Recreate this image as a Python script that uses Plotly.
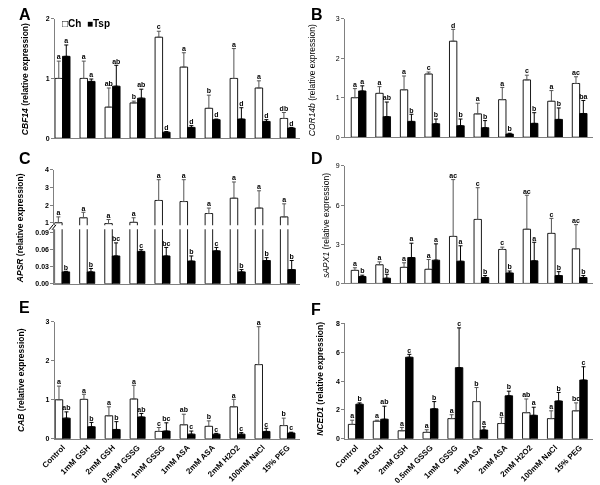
import plotly.graph_objects as go

categories = ["Control", "1mM GSH", "2mM GSH", "0.5mM GSSG", "1mM GSSG",
              "1mM ASA", "2mM ASA", "2mM H2O2", "100mM NaCl", "15% PEG"]

# Panel A  CBF14
a_ch = [1.00, 1.00, 0.52, 0.59, 1.69, 1.19, 0.50, 1.00, 0.84, 0.33]
a_ch_err = [0.29, 0.29, 0.32, 0.03, 0.10, 0.24, 0.22, 0.50, 0.12, 0.10]
a_tsp = [1.37, 0.95, 0.87, 0.67, 0.10, 0.18, 0.31, 0.32, 0.28, 0.17]
a_tsp_err = [0.19, 0.04, 0.35, 0.15, 0.01, 0.03, 0.01, 0.19, 0.03, 0.01]
a_ch_let = ["a", "a", "ab", "b", "c", "a", "b", "a", "a", "db"]
a_tsp_let = ["a", "a", "ab", "ab", "d", "d", "d", "d", "d", "d"]

# Panel B  COR14b
b_ch = [1.00, 1.11, 1.20, 1.60, 2.43, 0.59, 0.95, 1.45, 0.91, 1.36]
b_ch_err = [0.23, 0.17, 0.35, 0.05, 0.30, 0.27, 0.31, 0.12, 0.27, 0.17]
b_tsp = [1.17, 0.52, 0.40, 0.34, 0.29, 0.24, 0.08, 0.35, 0.45, 0.60]
b_tsp_err = [0.13, 0.37, 0.18, 0.12, 0.17, 0.18, 0.02, 0.27, 0.29, 0.33]
b_ch_let = ["a", "a", "a", "c", "d", "a", "a", "c", "a", "ac"]
b_tsp_let = ["a", "ab", "b", "b", "b", "b", "b", "b", "b", "ba"]

# Panel C  APSR (broken axis)
c_ch = [1.00, 1.28, 0.95, 1.02, 2.26, 2.20, 1.52, 2.39, 1.83, 1.33]
c_ch_err = [0.33, 0.31, 0.23, 0.26, 1.18, 1.24, 0.31, 0.92, 0.98, 0.74]
c_tsp = [0.021, 0.021, 0.049, 0.057, 0.049, 0.040, 0.058, 0.021, 0.041, 0.025]
c_tsp_err = [0.001, 0.006, 0.023, 0.003, 0.015, 0.009, 0.006, 0.004, 0.005, 0.016]
c_ch_let = ["a"] * 10
c_tsp_let = ["b", "b", "bc", "c", "bc", "b", "c", "b", "b", "b"]

# Panel D  sAPX1
d_ch = [1.00, 1.43, 1.23, 1.08, 3.60, 4.90, 2.60, 4.15, 3.83, 2.65]
d_ch_err = [0.20, 0.22, 0.35, 0.75, 4.35, 2.43, 0.18, 2.60, 1.15, 1.85]
d_tsp = [0.53, 0.40, 1.98, 1.78, 1.70, 0.45, 0.80, 1.73, 0.60, 0.45]
d_tsp_err = [0.10, 0.30, 1.10, 1.25, 1.18, 0.15, 0.15, 1.42, 0.30, 0.15]
d_ch_let = ["a", "a", "a", "a", "ac", "c", "c", "ac", "c", "ac"]
d_tsp_let = ["b", "b", "a", "a", "a", "b", "b", "a", "b", "b"]

# Panel E  CAB
e_ch = [1.00, 1.01, 0.59, 1.02, 0.19, 0.36, 0.32, 0.82, 1.90, 0.34]
e_ch_err = [0.35, 0.13, 0.23, 0.35, 0.10, 0.27, 0.14, 0.19, 0.97, 0.19]
e_tsp = [0.53, 0.31, 0.24, 0.56, 0.20, 0.12, 0.12, 0.12, 0.19, 0.15]
e_tsp_err = [0.16, 0.11, 0.20, 0.09, 0.21, 0.08, 0.02, 0.04, 0.08, 0.02]
e_ch_let = ["a", "a", "a", "a", "c", "ab", "b", "a", "a", "b"]
e_tsp_let = ["ab", "b", "b", "ab", "bc", "c", "c", "c", "c", "c"]

# Panel F  NCED1
f_ch = [1.00, 1.22, 0.56, 0.45, 1.40, 2.58, 1.06, 1.81, 1.40, 1.94]
f_ch_err = [0.29, 0.07, 0.23, 0.18, 0.27, 0.97, 0.43, 0.95, 0.54, 0.55]
f_tsp = [2.40, 1.36, 5.65, 2.08, 4.93, 0.61, 2.98, 1.63, 2.62, 4.07]
f_tsp_err = [0.09, 0.90, 0.20, 0.50, 2.75, 0.23, 0.32, 0.56, 0.59, 0.92]
f_ch_let = ["a", "a", "a", "a", "a", "b", "a", "ab", "a", "bc"]
f_tsp_let = ["b", "ab", "c", "b", "c", "a", "b", "a", "b", "c"]

FONT = "Liberation Sans, Arial, sans-serif"
AXC = "#808080"
TXT = "black"
xpos = list(range(len(categories)))
W, H = 600, 485


def px(x):
    return x / W


def py(y):
    return (H - y) / H


fig = go.Figure()
annotations = []


def ref(n):
    return ("x" if n == 1 else f"x{n}"), ("y" if n == 1 else f"y{n}")


def add_bars(n, ch, ch_err, tsp, tsp_err, show_ch_err=True, show_tsp_err=True):
    xa, ya = ref(n)
    fig.add_trace(go.Bar(
        x=xpos, y=ch, xaxis=xa, yaxis=ya, name="Ch", showlegend=False,
        marker=dict(color="white", line=dict(color="black", width=0.9)),
        error_y=dict(type="data", symmetric=False, array=ch_err,
                     arrayminus=[0] * len(ch), color="#555555", thickness=1,
                     width=2, visible=show_ch_err),
        hoverinfo="skip",
    ))
    fig.add_trace(go.Bar(
        x=xpos, y=tsp, xaxis=xa, yaxis=ya, name="Tsp", showlegend=False,
        marker=dict(color="black", line=dict(color="black", width=0.9)),
        error_y=dict(type="data", symmetric=False, array=tsp_err,
                     arrayminus=[0] * len(tsp), color="black", thickness=1,
                     width=2, visible=show_tsp_err),
        hoverinfo="skip",
    ))


def add_letters(n, vals, errs, letters, offset):
    xa, ya = ref(n)
    fig.add_trace(go.Scatter(
        x=[i + offset for i in xpos], y=[v + e for v, e in zip(vals, errs)],
        xaxis=xa, yaxis=ya, mode="text", text=letters,
        textposition="top center", cliponaxis=False, showlegend=False,
        hoverinfo="skip",
        textfont=dict(size=7, family=FONT, color=TXT, weight="bold")))


def set_axes(n, xdom, ydom, xr, yr, ytickvals, bold=True, xlabels=False,
             ytickfmt=None, xvisible=True):
    xk = "xaxis" if n == 1 else f"xaxis{n}"
    yk = "yaxis" if n == 1 else f"yaxis{n}"
    xa, ya = ref(n)
    fig.layout[xk] = dict(
        domain=xdom, range=xr, anchor=ya, showline=xvisible, linecolor=AXC,
        linewidth=1, showgrid=False, zeroline=False, ticks="",
        tickvals=xpos, ticktext=categories, showticklabels=xlabels,
        tickangle=-45, tickfont=dict(size=8, family=FONT, color=TXT,
                                     weight="bold"),
        visible=xvisible, fixedrange=True)
    fig.layout[yk] = dict(
        domain=ydom, range=yr, anchor=xa, showline=True, linecolor=AXC,
        linewidth=1, showgrid=False, zeroline=False, ticks="outside",
        ticklen=3, tickcolor=AXC, tickvals=ytickvals,
        tickfont=dict(size=7, family=FONT, color=TXT,
                      weight="bold" if bold else "normal"),
        tickformat=ytickfmt, fixedrange=True)


# ---- Panel A (1)
add_bars(1, a_ch, a_ch_err, a_tsp, a_tsp_err)
add_letters(1, a_ch, a_ch_err, a_ch_let, -0.15)
add_letters(1, a_tsp, a_tsp_err, a_tsp_let, 0.15)
set_axes(1, [px(42), px(293)], [py(137), py(15)], [-0.3, 9.5], [0, 2], [0, 1, 2])

# ---- Panel B (2)
add_bars(2, b_ch, b_ch_err, b_tsp, b_tsp_err)
add_letters(2, b_ch, b_ch_err, b_ch_let, -0.15)
add_letters(2, b_tsp, b_tsp_err, b_tsp_let, 0.15)
set_axes(2, [px(339), px(593)], [py(136), py(15)], [-0.55, 9.55], [0, 3],
         [0, 1, 2, 3], bold=False)

# ---- Panel C lower (3) and upper (4)
add_bars(3, c_ch, c_ch_err, c_tsp, c_tsp_err, show_ch_err=False)
add_letters(3, c_tsp, c_tsp_err, c_tsp_let, 0.15)
set_axes(3, [px(41.3), px(293.3)], [py(285.7), py(230.0)], [-0.31, 9.5],
         [0, 0.096], [0, 0.03, 0.06, 0.09], ytickfmt=".2f")
add_bars(4, c_ch, c_ch_err, c_tsp, c_tsp_err, show_tsp_err=False)
add_letters(4, c_ch, c_ch_err, c_ch_let, -0.15)
set_axes(4, [px(41.3), px(293.3)], [py(226.0), py(169.3)], [-0.31, 9.5],
         [0.85, 4], [1, 2, 3, 4], xvisible=False)

# ---- Panel D (5)
add_bars(5, d_ch, d_ch_err, d_tsp, d_tsp_err)
add_letters(5, d_ch, d_ch_err, d_ch_let, -0.15)
add_letters(5, d_tsp, d_tsp_err, d_tsp_let, 0.15)
set_axes(5, [px(339), px(593)], [py(285.3), py(165.3)], [-0.55, 9.55], [0, 9],
         [0, 3, 6, 9], bold=False)

# ---- Panel E (6)
add_bars(6, e_ch, e_ch_err, e_tsp, e_tsp_err)
add_letters(6, e_ch, e_ch_err, e_ch_let, -0.15)
add_letters(6, e_tsp, e_tsp_err, e_tsp_let, 0.15)
set_axes(6, [px(41.7), px(293.3)], [py(444), py(324.3)], [-0.32, 9.52], [0, 3],
         [0, 1, 2, 3], xlabels=True)

# ---- Panel F (7)
add_bars(7, f_ch, f_ch_err, f_tsp, f_tsp_err)
add_letters(7, f_ch, f_ch_err, f_ch_let, -0.15)
add_letters(7, f_tsp, f_tsp_err, f_tsp_let, 0.15)
set_axes(7, [px(339.3), px(593.3)], [py(444), py(326)], [-0.42, 9.55], [0, 8],
         [0, 2, 4, 6, 8], xlabels=True)

# Panel letters
for t, x, y in [("A", 3, 11), ("B", 302, 11), ("C", 3, 158), ("D", 302, 158),
                ("E", 3, 310), ("F", 302, 312)]:
    annotations.append(dict(x=px(x), y=py(y), xref="paper", yref="paper",
                            text=f"<b>{t}</b>", showarrow=False, xanchor="left",
                            yanchor="middle",
                            font=dict(size=16, family=FONT, color=TXT)))

# Y-axis titles
ytitles = [
    ("<b><i>CBF14</i> (relative expression)</b>", 12, 77),
    ("<i>COR14b</i> (relative expression)", 306, 78),
    ("<b><i>APSR</i> (relative expression)</b>", 6, 229),
    ("<i>sAPX1</i> (relative expression)", 320, 226),
    ("<b><i>CAB</i> (relative expression)</b>", 7, 384),
    ("<b><i>NCED1</i> (relative expression)</b>", 313, 383),
]
for t, x, y in ytitles:
    annotations.append(dict(x=px(x), y=py(y), xref="paper", yref="paper",
                            text=t, showarrow=False, textangle=-90,
                            xanchor="center", yanchor="middle",
                            font=dict(size=8.5, family=FONT, color=TXT)))

# Legend
annotations.append(dict(x=px(47), y=py(20), xref="paper", yref="paper",
                        text="<b>□Ch  ■Tsp</b>", showarrow=False,
                        xanchor="left", yanchor="middle",
                        font=dict(size=10, family=FONT, color=TXT)))

# Axis-break marks on panel C
shapes = []
for dx in (0, 3):
    shapes.append(dict(type="line", xref="paper", yref="paper",
                       x0=px(36 + dx), y0=py(230.5), x1=px(40 + dx), y1=py(225.5),
                       line=dict(color="black", width=1)))

fig.update_layout(
    width=W, height=H, margin=dict(l=0, r=0, t=0, b=0),
    paper_bgcolor="white", plot_bgcolor="white",
    barmode="group", bargap=0.4, bargroupgap=0,
    annotations=annotations, shapes=shapes, showlegend=False,
    font=dict(family=FONT, color="black"), hovermode=False,
)

fig.write_html("out.html", config={"displayModeBar": False},
               post_script="document.body.style.margin='0';"
                           "document.body.style.overflow='hidden';"
                           "document.querySelectorAll('.plotly-graph-div')"
                           ".forEach(function(d){d.style.filter='grayscale(1)';});")
